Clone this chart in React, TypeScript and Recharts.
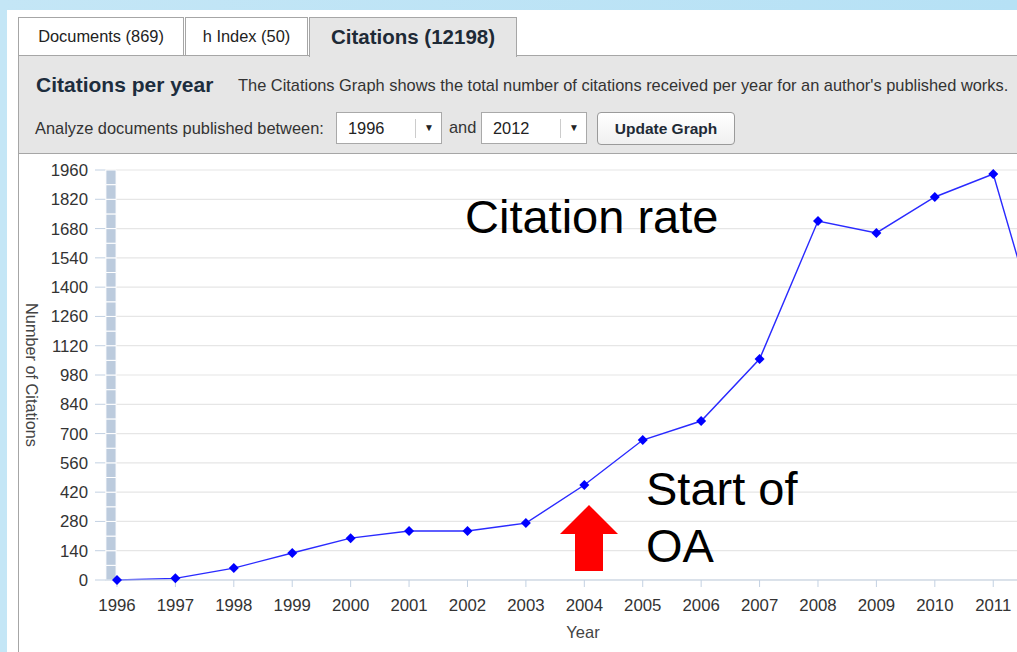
import React from "react";
import {
  LineChart,
  Line,
  XAxis,
  YAxis,
  CartesianGrid,
  ReferenceArea,
  Label,
} from "recharts";

// Citations per year
const years = [1996, 1997, 1998, 1999, 2000, 2001, 2002, 2003, 2004, 2005, 2006, 2007, 2008, 2009, 2010, 2011, 2012];
const citations = [0, 8, 57, 129, 200, 234, 234, 272, 454, 669, 760, 1056, 1716, 1659, 1831, 1941, 980];
const yTicks = [0, 140, 280, 420, 560, 700, 840, 980, 1120, 1260, 1400, 1540, 1680, 1820, 1960];
// 2012 sits past the right edge of the screenshot, so its label is not shown
const xTicks = years.filter((y) => y <= 2011);

const tabs = ["Documents (869)", "h Index (50)"];
const activeTab = "Citations (12198)";
const fromYear = "1996";
const toYear = "2012";

const data = years.map((year, i) => ({ year, value: citations[i] }));

// the segmented grey strip left of the plot, one block per half tick
const bandStep = 70;
const bandBlocks = Array.from({ length: 1960 / bandStep }, (_, i) => [i * bandStep, (i + 1) * bandStep]);

const FONT = '"Liberation Sans", Arial, sans-serif';
const UI_SIZE = 16.4;

const Diamond = (props: any) => {
  const { cx, cy, index } = props;
  if (cx == null || cy == null) return null;
  const r = 5;
  return (
    <path
      key={`dot-${index}`}
      d={`M${cx},${cy - r} L${cx + r},${cy} L${cx},${cy + r} L${cx - r},${cy} Z`}
      fill="#0000ff"
    />
  );
};

const SelectBox: React.FC<{ left: number; value: string }> = ({ left, value }) => (
  <div
    style={{
      position: "absolute",
      left,
      top: 112,
      width: 106,
      height: 32,
      background: "#fff",
      border: "1px solid #a9a9a9",
      boxSizing: "border-box",
      fontSize: UI_SIZE,
      color: "#222",
    }}
  >
    <span style={{ position: "absolute", left: 11, top: 0, lineHeight: "31px" }}>{value}</span>
    <span style={{ position: "absolute", left: 78, top: 6, width: 1, height: 19, background: "#ccc" }} />
    <span style={{ position: "absolute", left: 87, top: 0, fontSize: 10, lineHeight: "30px" }}>▼</span>
  </div>
);

const textAt = (left: number, centerY: number, size: number): React.CSSProperties => ({
  position: "absolute",
  left,
  top: centerY - 12,
  height: 24,
  lineHeight: "24px",
  fontSize: size,
  whiteSpace: "nowrap",
});

export default function App() {
  return (
    <div
      style={{
        position: "absolute",
        left: 0,
        top: 0,
        width: 1017,
        height: 652,
        overflow: "hidden",
        background: "linear-gradient(90deg, #c4e6f6, #b6e1f5)",
        fontFamily: FONT,
      }}
    >
      {/* white slide panel */}
      <div style={{ position: "absolute", left: 7, top: 10, width: 1100, height: 700, background: "#fff" }} />

      {/* tabs */}
      {tabs.map((t, i) => (
        <div
          key={t}
          style={{
            position: "absolute",
            left: i === 0 ? 18 : 185,
            top: 17,
            width: i === 0 ? 166 : 123,
            height: 38,
            border: "1px solid #a6a6a6",
            borderBottom: "none",
            boxSizing: "border-box",
            background: "#fff",
            fontSize: UI_SIZE,
            color: "#222",
            textAlign: "center",
            lineHeight: "37px",
          }}
        >
          {t}
        </div>
      ))}

      {/* header panel */}
      <div
        style={{
          position: "absolute",
          left: 18,
          top: 55,
          width: 1100,
          height: 99,
          background: "#e6e6e6",
          borderTop: "1px solid #a6a6a6",
          borderLeft: "1px solid #a6a6a6",
          borderBottom: "1px solid #a6a6a6",
          boxSizing: "border-box",
        }}
      />
      <div
        style={{
          position: "absolute",
          left: 309,
          top: 17,
          width: 208,
          height: 40,
          border: "1px solid #a6a6a6",
          borderBottom: "none",
          boxSizing: "border-box",
          background: "#e6e6e6",
          fontSize: 20.5,
          fontWeight: "bold",
          color: "#1e2a36",
          textAlign: "center",
          lineHeight: "38px",
        }}
      >
        {activeTab}
      </div>

      <div style={{ ...textAt(36, 85, 21), fontWeight: "bold", color: "#1d2d3d" }}>Citations per year</div>
      <div style={{ ...textAt(238, 85, UI_SIZE), color: "#333" }}>
        The Citations Graph shows the total number of citations received per year for an author's published works.
      </div>

      <div style={{ ...textAt(35, 128, UI_SIZE), color: "#333" }}>Analyze documents published between:</div>
      <SelectBox left={336} value={fromYear} />
      <div style={{ ...textAt(449, 127, UI_SIZE), color: "#333" }}>and</div>
      <SelectBox left={481} value={toYear} />
      <div
        style={{
          position: "absolute",
          left: 597,
          top: 112,
          width: 138,
          height: 33,
          border: "1px solid #9a9a9a",
          borderRadius: 4,
          boxSizing: "border-box",
          background: "linear-gradient(#ffffff, #f0f0f0)",
          fontSize: 15.5,
          fontWeight: "bold",
          color: "#1e2a36",
          textAlign: "center",
          lineHeight: "31px",
        }}
      >
        Update Graph
      </div>

      {/* chart area left border */}
      <div style={{ position: "absolute", left: 18, top: 153, width: 1, height: 500, background: "#a6a6a6" }} />

      <div style={{ position: "absolute", left: 18, top: 153 }}>
        <LineChart
          width={1062}
          height={499}
          data={data}
          margin={{ top: 17, right: 19, left: 0, bottom: 12 }}
          style={{ fontFamily: FONT }}
        >
          <CartesianGrid vertical={false} stroke="#e6e6e6" strokeWidth={1.2} />
          <XAxis
            type="number"
            dataKey="year"
            domain={[1995.795, 2012.16]}
            allowDataOverflow
            ticks={xTicks}
            interval={0}
            height={60}
            tickSize={7}
            tickMargin={12}
            stroke="#c3d1e2"
            tick={{ fill: "#333", fontSize: 16.8 }}
          >
            <Label value="Year" position="insideBottom" offset={2} fill="#444" fontSize={16.5} />
          </XAxis>
          <YAxis
            domain={[0, 1960]}
            ticks={yTicks}
            interval={0}
            width={87}
            axisLine={false}
            tickSize={10}
            tickMargin={7}
            tickLine={{ stroke: "#c3d1e2" }}
            tick={{ fill: "#333", fontSize: 16.8 }}
          >
            <Label
              value="Number of Citations"
              angle={90}
              position="insideLeft"
              offset={14}
              fill="#444"
              fontSize={16.3}
              style={{ textAnchor: "middle" }}
            />
          </YAxis>
          {bandBlocks.map(([lo, hi]) => (
            <ReferenceArea
              key={lo}
              x1={1995.81}
              x2={1995.985}
              y1={lo}
              y2={hi}
              fill="#bccbdd"
              fillOpacity={1}
              stroke="#fff"
              strokeWidth={1}
              ifOverflow="visible"
            />
          ))}
          <Line
            type="linear"
            dataKey="value"
            stroke="#2a2aff"
            strokeWidth={1.4}
            dot={Diamond}
            activeDot={false}
            isAnimationActive={false}
          />
        </LineChart>
      </div>

      {/* slide annotations */}
      <div style={{ position: "absolute", left: 465, top: 189, fontSize: 47, color: "#000", lineHeight: "56px" }}>
        Citation rate
      </div>
      <div style={{ position: "absolute", left: 646, top: 460, fontSize: 47, color: "#000", lineHeight: "57px" }}>
        Start of
        <br />
        OA
      </div>
      <svg style={{ position: "absolute", left: 0, top: 0 }} width={1017} height={652} pointerEvents="none">
        <polygon points="589,505 618,534 603,534 603,571 575,571 575,534 560,534" fill="#ff0000" />
      </svg>
    </div>
  );
}
